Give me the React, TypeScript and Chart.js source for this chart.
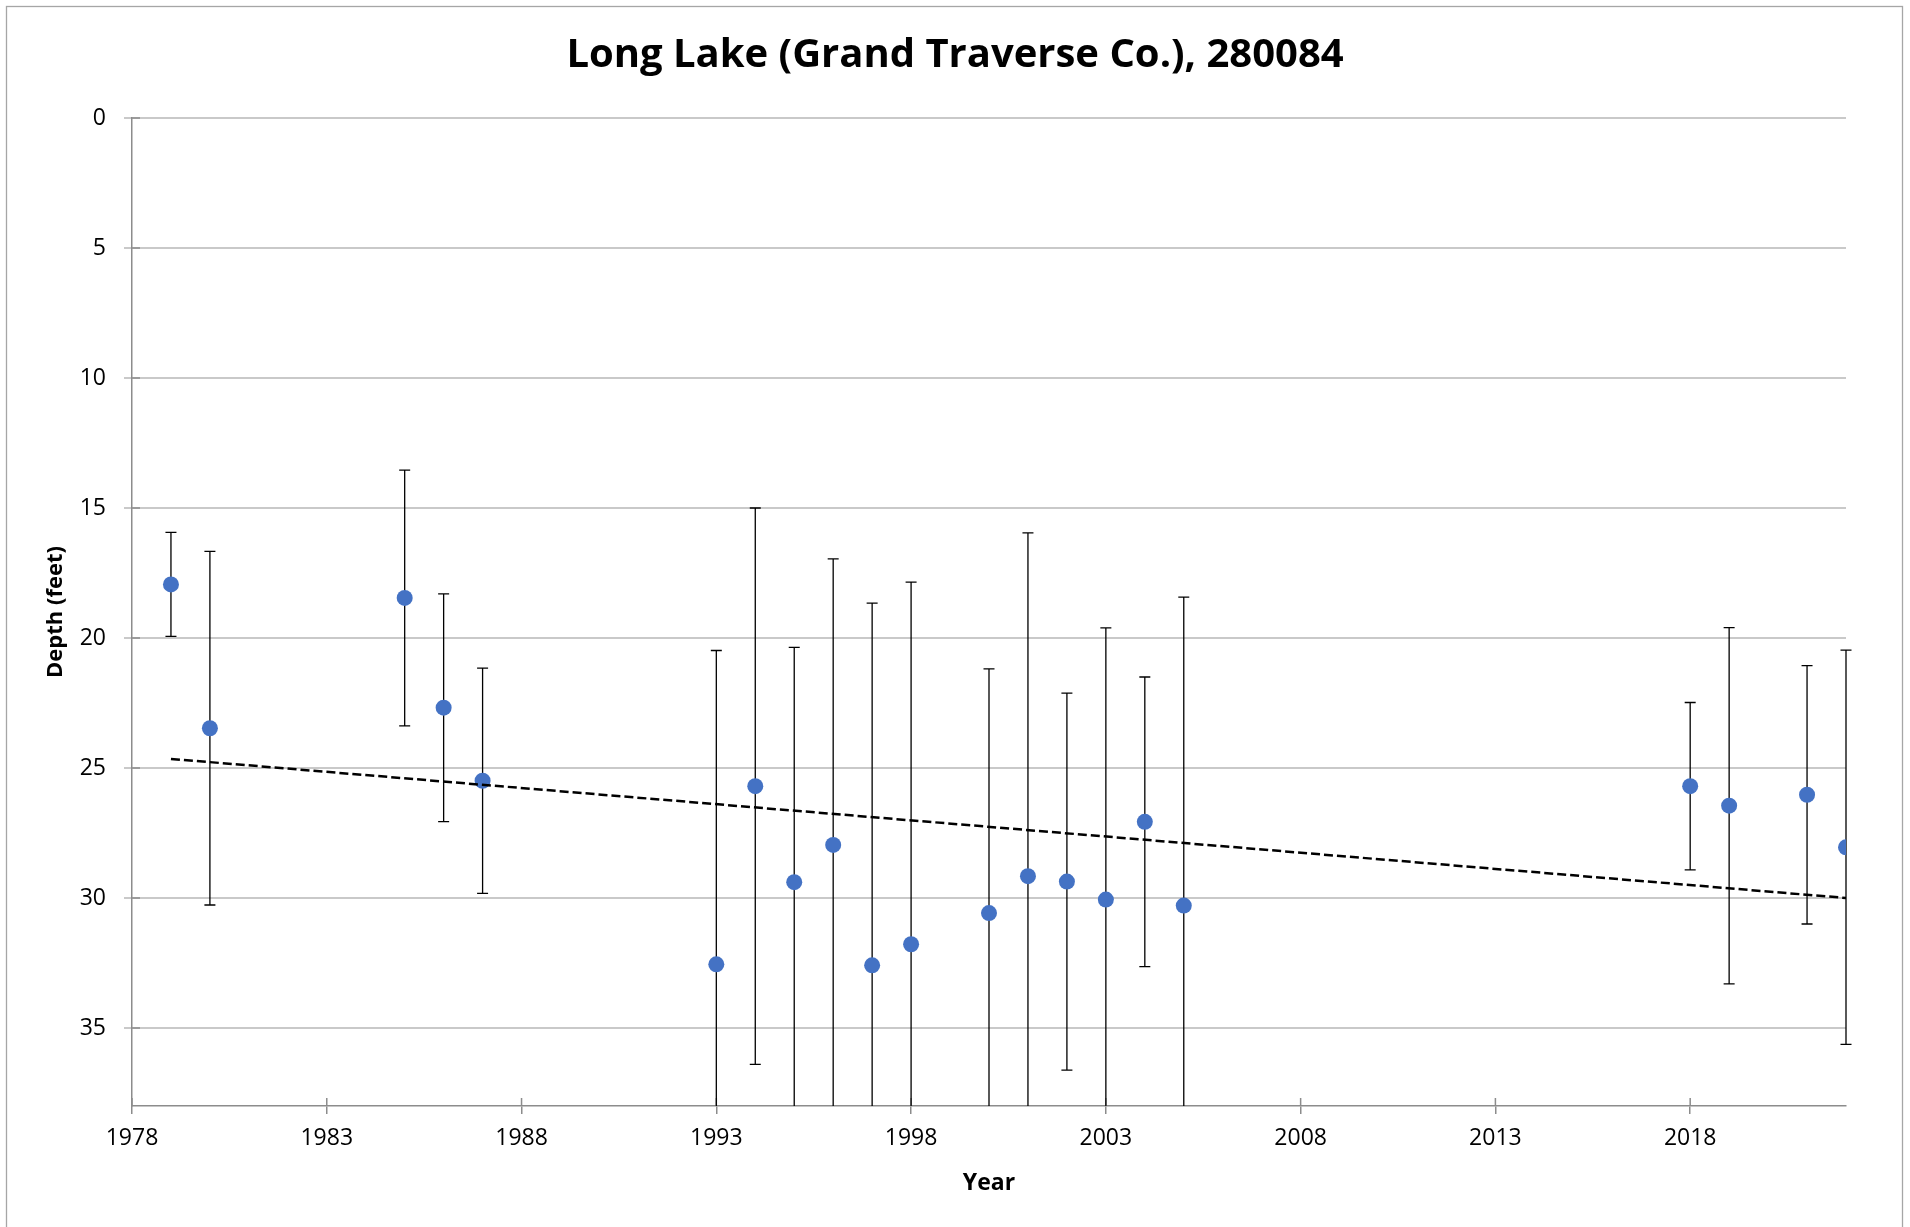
import React, { useEffect, useRef } from "react";
import { Chart, registerables } from "chart.js";

Chart.register(...registerables);

// ---- data ----
const titleText = "Long Lake (Grand Traverse Co.), 280084";
const xAxisTitle = "Year";
const yAxisTitle = "Depth (feet)";

const years = [1979, 1980, 1985, 1986, 1987, 1993, 1994, 1995, 1996, 1997, 1998, 2000, 2001, 2002, 2003, 2004, 2005, 2018, 2019, 2021, 2022];
const depths = [17.94, 23.47, 18.46, 22.68, 25.49, 32.55, 25.7, 29.39, 27.96, 32.59, 31.78, 30.58, 29.16, 29.37, 30.06, 27.07, 30.29, 25.7, 26.45, 26.03, 28.05];
const errors = [2.0, 6.8, 4.92, 4.38, 4.33, 12.07, 10.7, 9.03, 11.0, 13.93, 13.93, 9.39, 13.2, 7.25, 10.45, 5.57, 11.86, 3.22, 6.85, 4.97, 7.58];

const trendYears = [1979, 2022];
const trendDepths = [24.65, 30.0];

const xTickYears = [1978, 1983, 1988, 1993, 1998, 2003, 2008, 2013, 2018];
const yTickValues = [0, 5, 10, 15, 20, 25, 30, 35];
const xMin = 1978;
const xMax = 2022;
const yMin = 0;
const yMax = 38;

const FONT = "'Open Sans', 'Noto Sans', sans-serif";
const AXIS_GRAY = "#8C8C8C";
const GRID_GRAY = "#C9C9C9";

const backgroundPlugin = {
  id: "bgBorder",
  beforeDraw(chart: any) {
    const { ctx, width, height } = chart;
    ctx.save();
    ctx.fillStyle = "#ffffff";
    ctx.fillRect(0, 0, width, height);
    ctx.strokeStyle = "#A6A6A6";
    ctx.lineWidth = 1.3;
    ctx.strokeRect(6.5, 6.5, 1896, height + 20);
    ctx.restore();
  },
  afterDraw(chart: any) {
    const { ctx, width } = chart;
    ctx.save();
    ctx.fillStyle = "#000000";
    ctx.font = `bold 40px ${FONT}`;
    ctx.textAlign = "center";
    ctx.textBaseline = "middle";
    ctx.fillText(titleText, width / 2, 56);
    ctx.restore();
  },
};

const errorBarPlugin = {
  id: "errorBars",
  beforeDatasetsDraw(chart: any) {
    const { ctx, chartArea, scales } = chart;
    const xs = scales.x;
    const ys = scales.y;
    ctx.save();
    // inward tick marks (cross ticks)
    ctx.strokeStyle = AXIS_GRAY;
    ctx.lineWidth = 1.5;
    ctx.beginPath();
    xTickYears.forEach((v) => {
      const px = xs.getPixelForValue(v);
      ctx.moveTo(px, chartArea.bottom);
      ctx.lineTo(px, chartArea.bottom - 8);
    });
    yTickValues.forEach((v) => {
      const py = ys.getPixelForValue(v);
      ctx.moveTo(chartArea.left, py);
      ctx.lineTo(chartArea.left + 8, py);
    });
    ctx.stroke();

    ctx.beginPath();
    ctx.rect(chartArea.left - 10, chartArea.top - 10, chartArea.right - chartArea.left + 20, chartArea.bottom - chartArea.top + 10);
    ctx.clip();
    ctx.strokeStyle = "#000000";
    ctx.lineWidth = 1.3;
    const cap = 5.5;
    years.forEach((yr, i) => {
      const px = xs.getPixelForValue(yr);
      const top = ys.getPixelForValue(depths[i] - errors[i]);
      const botRaw = ys.getPixelForValue(depths[i] + errors[i]);
      const bot = Math.min(botRaw, chartArea.bottom);
      ctx.beginPath();
      ctx.moveTo(px, top);
      ctx.lineTo(px, bot);
      ctx.moveTo(px - cap, top);
      ctx.lineTo(px + cap, top);
      if (botRaw <= chartArea.bottom) {
        ctx.moveTo(px - cap, botRaw);
        ctx.lineTo(px + cap, botRaw);
      }
      ctx.stroke();
    });
    ctx.restore();
  },
};

export default function App() {
  const canvasRef = useRef<HTMLCanvasElement | null>(null);

  useEffect(() => {
    const canvas = canvasRef.current;
    if (!canvas) return;
    const chart = new Chart(canvas, {
      type: "scatter",
      data: {
        datasets: [
          {
            type: "line",
            label: "Trend",
            data: trendYears.map((x, i) => ({ x, y: trendDepths[i] })),
            borderColor: "#000000",
            borderWidth: 2.5,
            borderDash: [9, 4],
            pointRadius: 0,
            fill: false,
            order: 0,
          } as any,
          {
            label: "Depth",
            data: years.map((x, i) => ({ x, y: depths[i] })),
            backgroundColor: "#4472C4",
            borderColor: "#4472C4",
            pointRadius: 8,
            pointBorderWidth: 0,
            order: 1,
          },
        ],
      },
      options: {
        responsive: false,
        animation: false,
        events: [],
        layout: { padding: { left: 0, right: 64, top: 118, bottom: 0 } },
        plugins: {
          legend: { display: false },
          tooltip: { enabled: false },
          title: { display: false },
        },
        scales: {
          x: {
            type: "linear",
            min: xMin,
            max: xMax,
            afterBuildTicks: (s: any) => {
              s.ticks = xTickYears.map((v) => ({ value: v }));
            },
            afterFit: (s: any) => {
              s.height = 121;
            },
            ticks: {
              color: "#000000",
              font: { family: FONT, size: 23 },
              padding: 11,
              maxRotation: 0,
              autoSkip: false,
              callback: (v: any) => String(v),
            },
            grid: {
              drawOnChartArea: false,
              drawTicks: true,
              tickLength: 8,
              color: AXIS_GRAY,
              lineWidth: 1.5,
            },
            border: { display: true, color: AXIS_GRAY, width: 1.5 },
            title: {
              display: true,
              text: xAxisTitle,
              color: "#000000",
              font: { family: FONT, size: 23, weight: "bold" },
              padding: { top: 0, bottom: 30 },
            },
          },
          y: {
            type: "linear",
            reverse: true,
            min: yMin,
            max: yMax,
            afterBuildTicks: (s: any) => {
              s.ticks = yTickValues.map((v) => ({ value: v }));
            },
            afterFit: (s: any) => {
              s.width = 132;
            },
            ticks: {
              color: "#000000",
              font: { family: FONT, size: 23 },
              padding: 18,
              callback: (v: any) => String(v),
            },
            grid: {
              drawOnChartArea: true,
              drawTicks: true,
              tickLength: 8,
              color: GRID_GRAY,
              lineWidth: 2,
            },
            border: { display: true, color: AXIS_GRAY, width: 1.5 },
            title: {
              display: true,
              text: yAxisTitle,
              color: "#000000",
              font: { family: FONT, size: 22, weight: "bold" },
              padding: { top: 43, bottom: 0 },
            },
          },
        },
      },
      plugins: [backgroundPlugin, errorBarPlugin],
    });
    return () => chart.destroy();
  }, []);

  return (
    <div style={{ position: "absolute", left: 0, top: 0, width: 1910, height: 1227, background: "#fff" }}>
      <canvas ref={canvasRef} width={1910} height={1227} style={{ display: "block" }} />
    </div>
  );
}
